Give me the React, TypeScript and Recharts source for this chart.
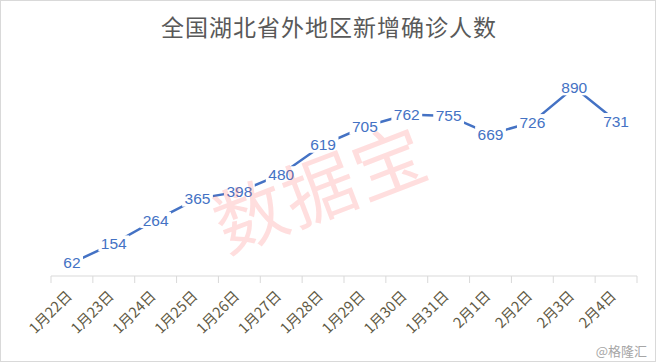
import React from "react";
import { LabelList, Line, LineChart, XAxis, YAxis } from "recharts";

const categories = [
  "1月22日", "1月23日", "1月24日", "1月25日", "1月26日", "1月27日", "1月28日",
  "1月29日", "1月30日", "1月31日", "2月1日", "2月2日", "2月3日", "2月4日",
];
const newConfirmed = [62, 154, 264, 365, 398, 480, 619, 705, 762, 755, 669, 726, 890, 731];
const yDomain = [0, 1000];

const W = 656;
const H = 362;
const margin = { top: 64, right: 19, left: 51, bottom: 0 };
const axisHeight = 86;
const band = (W - margin.left - margin.right) / categories.length;

const data = categories.map((day, i) => ({ day, value: newConfirmed[i] }));

// Excel-style category axis: tick marks sit between categories, labels turned -45deg
const DayTick = (props: any) => {
  const { x, y, payload, index } = props;
  const isLast = index === categories.length - 1;
  return (
    <g>
      <line x1={x - band / 2} y1={y} x2={x - band / 2} y2={y + 7} stroke="#d9d9d9" />
      {isLast && <line x1={x + band / 2} y1={y} x2={x + band / 2} y2={y + 7} stroke="#d9d9d9" />}
      <text
        x={x + 1}
        y={y + 21}
        textAnchor="end"
        transform={`rotate(-45, ${x + 1}, ${y + 21})`}
        fontSize={14.5}
        fill="#5f5a45"
        fontFamily="'Noto Sans CJK SC', sans-serif"
      >
        {payload.value}
      </text>
    </g>
  );
};

// value label centred on the point, with a white box that breaks the line
const PointLabel = (props: any) => {
  const { x, y, value } = props;
  const w = String(value).length * 8.6 + 5;
  return (
    <g>
      <rect x={x - w / 2} y={y - 8} width={w} height={16} fill="#fff" />
      <text
        x={x}
        y={y}
        textAnchor="middle"
        dominantBaseline="central"
        fontSize={15.5}
        fill="#4472c4"
        fontFamily="'Liberation Sans', Arial, sans-serif"
      >
        {value}
      </text>
    </g>
  );
};

export default function App() {
  return (
    <div
      style={{
        position: "absolute",
        left: 0,
        top: 0,
        width: W,
        height: H,
        background: "#fff",
        boxSizing: "border-box",
        border: "1px solid #d9d9d9",
        overflow: "hidden",
      }}
    >
      <div style={{ position: "absolute", left: -1, top: -1 }}>
        <LineChart width={W} height={H} data={data} margin={margin}>
          <XAxis
            dataKey="day"
            height={axisHeight}
            interval={0}
            padding={{ left: band / 2, right: band / 2 }}
            stroke="#d9d9d9"
            tickLine={false}
            tickSize={0}
            tickMargin={0}
            tick={<DayTick />}
          />
          <YAxis hide domain={yDomain} />
          <Line
            dataKey="value"
            stroke="#4472c4"
            strokeWidth={2.5}
            dot={false}
            isAnimationActive={false}
          >
            <LabelList dataKey="value" content={<PointLabel />} />
          </Line>
        </LineChart>
      </div>
      <div
        style={{
          position: "absolute",
          left: 0,
          top: 10,
          width: W,
          textAlign: "center",
          fontFamily: "'Noto Sans CJK SC', sans-serif",
          fontSize: 23,
          letterSpacing: 1,
          color: "#595959",
          lineHeight: "30px",
        }}
      >
        全国湖北省外地区新增确诊人数
      </div>
      <div
        style={{
          position: "absolute",
          left: 318,
          top: 184,
          transform: "translate(-50%, -50%) rotate(-21deg)",
          fontFamily: "'Noto Sans CJK SC', sans-serif",
          fontSize: 72,
          letterSpacing: 2,
          color: "rgba(255, 90, 90, 0.2)",
          whiteSpace: "nowrap",
          lineHeight: 1,
          pointerEvents: "none",
        }}
      >
        数据宝
      </div>
      <div
        style={{
          position: "absolute",
          right: 8,
          top: 340,
          fontFamily: "'Noto Sans CJK SC', sans-serif",
          fontSize: 13,
          color: "#a6a6a6",
        }}
      >
        @格隆汇
      </div>
    </div>
  );
}
